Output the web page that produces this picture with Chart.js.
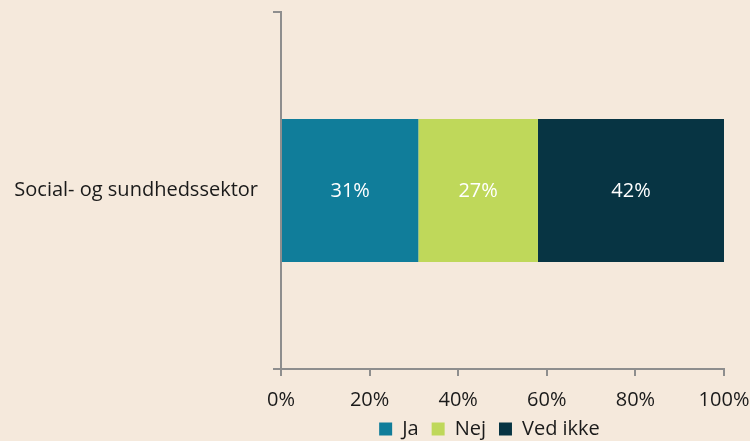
<!DOCTYPE html>
<html>
<head>
<meta charset="utf-8">
<script src="https://cdn.jsdelivr.net/npm/chart.js@4.4.1/dist/chart.umd.min.js"></script>
<style>
  html, body { margin: 0; padding: 0; background: #f5e9dc; }
  #wrap { width: 750px; height: 441px; }
</style>
</head>
<body>
<div id="wrap"><canvas id="chart" width="750" height="441"></canvas></div>
<script>
var categories = ['Social- og sundhedssektor']
var seriesNames = ['Ja', 'Nej', 'Ved ikke']
var ja = [31]
var nej = [27]
var vedIkke = [42]
var xTicks = [0, 20, 40, 60, 80, 100]
var colors = ['#107d9a', '#bfd85a', '#073443']

var font = '"Open Sans", "Noto Sans", sans-serif'
var axisColor = '#8e8e8e'
var fontSize = 20

// white percentage labels centred in each bar segment
var barLabels = {
  id: 'barLabels',
  afterDatasetsDraw: function (chart) {
    var c = chart.ctx
    c.save()
    c.fillStyle = '#ffffff'
    c.font = fontSize + 'px ' + font
    c.textAlign = 'center'
    c.textBaseline = 'middle'
    chart.data.datasets.forEach(function (ds, i) {
      chart.getDatasetMeta(i).data.forEach(function (bar, j) {
        var p = bar.getProps(['x', 'y', 'base'], true)
        c.fillText(ds.data[j] + '%', (p.x + p.base) / 2, p.y + 1)
      })
    })
    c.restore()
  }
}

// nudge the legend a bit left, like the original
var legendShift = {
  id: 'legendShift',
  afterLayout: function (chart) {
    if (chart.legend) {
      chart.legend.left -= 13
      chart.legend.right -= 13
    }
  }
}

var sets = [ja, nej, vedIkke].map(function (d, i) {
  return {
    label: seriesNames[i],
    data: d,
    backgroundColor: colors[i],
    borderWidth: 0,
    categoryPercentage: 1,
    barPercentage: 0.4
  }
})

new Chart(document.getElementById('chart'), {
  type: 'bar',
  data: { labels: categories, datasets: sets },
  plugins: [barLabels, legendShift],
  options: {
    indexAxis: 'y',
    responsive: false,
    animation: false,
    layout: { padding: { top: 12, left: 0, right: 0, bottom: -8 } },
    scales: {
      x: {
        stacked: true,
        min: 0,
        max: 100,
        afterBuildTicks: function (s) { s.ticks = xTicks.map(function (v) { return { value: v } }) },
        afterFit: function (s) { s.height = 37; s.paddingRight = 26 },
        ticks: {
          color: '#1a1a1a',
          font: { family: font, size: fontSize },
          padding: 12,
          callback: function (v) { return v + '%' }
        },
        grid: { drawOnChartArea: false, tickLength: 7, color: axisColor, lineWidth: 2 },
        border: { color: axisColor, width: 2 }
      },
      y: {
        stacked: true,
        afterFit: function (s) { s.width = 281; s.paddingTop = 0; s.paddingBottom = 0 },
        ticks: {
          color: '#1a1a1a',
          font: { family: font, size: fontSize },
          padding: 15
        },
        grid: { drawOnChartArea: false, offset: true, tickLength: 8, color: axisColor, lineWidth: 2 },
        border: { color: axisColor, width: 2 }
      }
    },
    plugins: {
      legend: {
        position: 'bottom',
        fullSize: false,
        labels: {
          color: '#1a1a1a',
          font: { family: font, size: fontSize },
          boxWidth: 13,
          boxHeight: 13,
          padding: 13
        }
      },
      tooltip: { enabled: false }
    }
  }
})
</script>
</body>
</html>
